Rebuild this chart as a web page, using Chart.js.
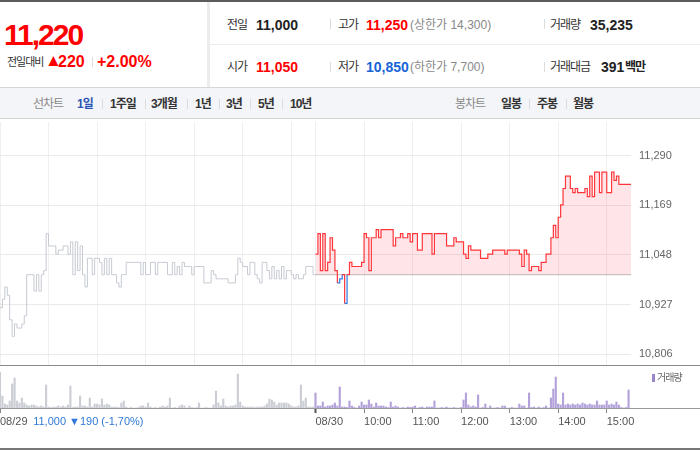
<!DOCTYPE html>
<html lang="ko">
<head>
  <meta charset="UTF-8">
  <script src="https://cdn.jsdelivr.net/npm/chart.js"></script>
  <title>주가 차트</title>
  <style>
    body { margin: 0; width: 700px; height: 450px; position: relative; overflow: hidden; background: #fff;
      font-family: "Liberation Sans", "Noto Sans CJK KR", sans-serif; color: #333; }
    .t { position: absolute; white-space: nowrap; line-height: 20px; }
    .k { font-size: 12px; letter-spacing: -1px; color: #333; }
    .n { font-size: 14px; font-weight: bold; color: #222; }
    .g { font-size: 12px; color: #888; }
    .red { color: #f00; }
    .blue { color: #1764d8; }
    .sep { position: absolute; width: 1px; height: 10px; background: #dcdcdc; }
    .ln { position: absolute; }
    .tab { font-size: 12px; font-weight: bold; letter-spacing: -1px; color: #333; }
    .box { position: absolute; left: 0; width: 700px; }
  </style>
</head>
<body>
  <!-- 상단 시세 -->
  <div class="ln" style="left:0;top:0;width:700px;height:2px;background:#5c5c5c"></div>
  <div class="t" style="left:4px;top:20px;font-size:30px;line-height:30px;font-weight:bold;letter-spacing:-2px;color:#f00">11,220</div>
  <div class="t" style="left:7px;top:52px;font-size:11px;letter-spacing:-1px;color:#333">전일대비</div>
  <div class="t red" style="left:45px;top:51px;font-size:17px">▲</div>
  <div class="t red" style="left:58px;top:52px;font-size:16px;font-weight:bold">220</div>
  <div class="sep" style="left:92px;top:57px;background:#ddd"></div>
  <div class="t red" style="left:97px;top:52px;font-size:16px;font-weight:bold">+2.00%</div>

  <div class="ln" style="left:207px;top:2px;width:3px;height:86px;background:#ececec"></div>
  <div class="ln" style="left:210px;top:44px;width:490px;height:1px;background:#ededed"></div>

  <div class="t k" style="left:227px;top:15px">전일</div>
  <div class="t n" style="left:256px;top:15px">11,000</div>
  <div class="sep" style="left:330px;top:19px"></div>
  <div class="t k" style="left:338px;top:15px">고가</div>
  <div class="t n red" style="left:366px;top:15px">11,250</div>
  <div class="t g" style="left:410px;top:15px">(상한가 14,300)</div>
  <div class="sep" style="left:544px;top:19px"></div>
  <div class="t k" style="left:550px;top:15px">거래량</div>
  <div class="t n" style="left:590px;top:15px">35,235</div>

  <div class="t k" style="left:227px;top:57px">시가</div>
  <div class="t n red" style="left:256px;top:57px">11,050</div>
  <div class="sep" style="left:330px;top:62px"></div>
  <div class="t k" style="left:338px;top:57px">저가</div>
  <div class="t n blue" style="left:366px;top:57px">10,850</div>
  <div class="t g" style="left:410px;top:57px">(하한가 7,700)</div>
  <div class="sep" style="left:544px;top:62px"></div>
  <div class="t k" style="left:550px;top:57px">거래대금</div>
  <div class="t n" style="left:601px;top:57px">391</div>
  <div class="t k" style="left:625px;top:57px;font-weight:bold;color:#222">백만</div>

  <!-- 기간 탭 -->
  <div class="box" style="top:87px;height:30px;background:#f4f5f8;border-top:1px solid #d6d6d6;border-bottom:1px solid #d3d3d3"></div>
  <div class="t k" style="left:33px;top:94px;color:#888">선차트</div>
  <div class="t tab" style="left:77px;top:94px;color:#2b52b5">1일</div>
  <div class="sep" style="left:102px;top:99px"></div>
  <div class="t tab" style="left:110px;top:94px">1주일</div>
  <div class="sep" style="left:145px;top:99px"></div>
  <div class="t tab" style="left:151px;top:94px">3개월</div>
  <div class="sep" style="left:187px;top:99px"></div>
  <div class="t tab" style="left:195px;top:94px">1년</div>
  <div class="sep" style="left:219px;top:99px"></div>
  <div class="t tab" style="left:226px;top:94px">3년</div>
  <div class="sep" style="left:250px;top:99px"></div>
  <div class="t tab" style="left:258px;top:94px">5년</div>
  <div class="sep" style="left:282px;top:99px"></div>
  <div class="t tab" style="left:290px;top:94px">10년</div>
  <div class="t k" style="left:455px;top:94px;color:#888">봉차트</div>
  <div class="t tab" style="left:501px;top:94px">일봉</div>
  <div class="sep" style="left:529px;top:99px"></div>
  <div class="t tab" style="left:537px;top:94px">주봉</div>
  <div class="sep" style="left:566px;top:99px"></div>
  <div class="t tab" style="left:573px;top:94px">월봉</div>

  <!-- 차트 -->
  <div class="box" style="top:122px;height:243px"><canvas id="priceChart"></canvas></div>
  <div class="ln" style="left:0;top:365px;width:700px;height:1px;background:#8c8c8c"></div>
  <div class="box" style="top:366px;height:81px"><canvas id="volChart"></canvas></div>
  <div class="ln" style="left:652px;top:374px;width:3px;height:8px;background:#9a85c9"></div>
  <div class="t" style="left:657px;top:368px;font-size:10px;letter-spacing:-1px;color:#666">거래량</div>
  <div class="ln" style="left:0;top:448px;width:700px;height:2px;background:#777"></div>

  <script>
    // 3분 간격 시세 (08/29, 08/30)
    const prevClose = 11000;
    const lastPrice = 11220;
    const step = 3;
    const dayMinutes = 390;

    const day1Price = [
      10920, 10940, 10970, 10950, 10890, 10850, 10880, 10870, 10870, 10880,
      10900, 11000, 11000, 11000, 10960, 11000, 10960, 11000, 11010, 11100,
      11070, 11070, 11070, 11050, 11060, 11060, 11070, 11070, 11050, 11080,
      11000, 11080, 11010, 11070, 11000, 10970, 11040, 11040, 11000, 11040,
      11040, 11030, 11000, 11040, 11000, 11040, 11000, 11000, 10980, 10970,
      11000, 11000, 11030, 11030, 11030, 11030, 11030, 11030, 11000, 11030,
      11000, 11000, 11030, 11030, 11000, 11030, 11030, 11030, 11030, 11000,
      11000, 11030, 11000, 11020, 11000, 11030, 11020, 11020, 11020, 11000,
      11020, 11020, 11020, 11020, 10980, 10980, 10980, 11010, 11000, 10990,
      10990, 10990, 10990, 10990, 10980, 10980, 10980, 11000, 11040, 11030,
      11020, 11020, 11000, 11030, 11030, 11000, 10990, 10980, 11030, 11030,
      11010, 10990, 11020, 10990, 11010, 10990, 11020, 10990, 11010, 11010,
      11000, 10990, 11000, 10990, 10990, 11000, 11020, 11020, 11020, 11000
    ];

    const day2Price = [
      11050, 11100, 11010, 11100, 11010, 11030, 11090, 11060, 11010, 10980,
      10990, 11000, 10930, 11000, 11030, 11020, 11020, 11020, 11020, 11030,
      11100, 11090, 11010, 11090, 11090, 11110, 11090, 11110, 11110, 11110,
      11110, 11110, 11070, 11090, 11090, 11100, 11090, 11090, 11100, 11080,
      11100, 11100, 11060, 11060, 11100, 11100, 11100, 11100, 11050, 11100,
      11100, 11100, 11100, 11100, 11070, 11070, 11070, 11090, 11080, 11080,
      11080, 11050, 11040, 11070, 11060, 11060, 11060, 11060, 11040, 11040,
      11040, 11050, 11050, 11060, 11060, 11060, 11060, 11060, 11050, 11060,
      11060, 11060, 11060, 11060, 11050, 11020, 11060, 11050, 11010, 11020,
      11020, 11020, 11010, 11030, 11030, 11050, 11050, 11090, 11120, 11090,
      11140, 11170, 11210, 11240, 11240, 11210, 11200, 11210, 11200, 11200,
      11200, 11210, 11190, 11240, 11190, 11250, 11250, 11200, 11250, 11250,
      11200, 11200, 11250, 11230, 11240, 11220, 11220, 11220, 11220, 11220
    ];

    const day1Vol = [
      3600, 1200, 400, 300, 700, 2400, 3000, 700, 500, 1000,
      500, 300, 200, 300, 300, 200, 100, 200, 100, 2300,
      100, 50, 100, 100, 200, 100, 200, 100, 300, 2200,
      50, 100, 100, 1200, 200, 200, 100, 1000, 100, 400,
      400, 300, 900, 300, 400, 300, 100, 100, 100, 50,
      500, 700, 100, 0, 50, 0, 0, 50, 200, 200,
      100, 500, 100, 0, 50, 0, 100, 200, 100, 200,
      1000, 0, 50, 0, 200, 300, 200, 0, 200, 50,
      0, 50, 500, 0, 0, 50, 0, 0, 300, 1700,
      500, 200, 900, 200, 100, 200, 200, 300, 3400, 600,
      200, 100, 100, 100, 100, 50, 100, 100, 100, 200,
      400, 900, 800, 600, 300, 500, 500, 500, 500, 400,
      200, 100, 100, 200, 2300, 700, 1000, 100, 100, 100
    ];

    const day2Vol = [
      1500, 200, 200, 600, 100, 200, 200, 300, 500, 200,
      2100, 100, 100, 50, 700, 200, 50, 0, 200, 600,
      300, 300, 800, 400, 100, 500, 200, 200, 200, 100,
      50, 600, 100, 200, 100, 0, 50, 0, 100, 50,
      100, 200, 0, 50, 100, 0, 100, 100, 100, 700,
      0, 0, 50, 0, 100, 0, 0, 50, 0, 0,
      50, 800, 1500, 300, 100, 200, 100, 1300, 0, 50,
      400, 0, 200, 0, 0, 50, 0, 200, 200, 0,
      0, 50, 0, 0, 400, 200, 200, 0, 1500, 50,
      100, 0, 100, 0, 50, 200, 0, 1000, 1900, 3100,
      400, 300, 1500, 300, 400, 300, 400, 300, 400, 300,
      500, 400, 300, 400, 300, 300, 700, 300, 300, 300,
      700, 300, 400, 300, 600, 300, 50, 0, 50, 1800
    ];

    const priceTicks = [10806, 10927, 11048, 11169, 11290];
    const hourTicks = [0, 60, 120, 180, 240, 300, 360, 390, 450, 510, 570, 630, 690, 750];
    const timeTicks = [0, 41, 390, 450, 510, 570, 630, 690, 750];
    const timeLabels = ["08/29", "11,000 ▼190 (-1,70%)", "08/30", "10:00", "11:00", "12:00", "13:00", "14:00", "15:00"];

    const red = "rgb(255,55,60)";
    const blue = "rgb(50,120,225)";

    function toPoints(values, start) {
      return values.map((v, i) => ({ x: start + i * step, y: v }));
    }

    // 축 라벨 때문에 생기는 여백 없애기
    function noPad(s) {
      s.paddingTop = 0;
      s.paddingBottom = 0;
      s.paddingLeft = 0;
      s.paddingRight = 0;
    }

    const line1 = toPoints(day1Price, 0);
    line1.push({ x: dayMinutes - 1, y: prevClose });
    const line2 = toPoints(day2Price, dayMinutes);
    line2.push({ x: dayMinutes * 2, y: lastPrice });

    Chart.defaults.font.family = "'Liberation Sans', 'Noto Sans CJK KR', sans-serif";

    new Chart(document.getElementById("priceChart"), {
      type: "line",
      data: {
        datasets: [{
          data: line2,
          borderColor: red,
          borderWidth: 1.2,
          stepped: true,
          pointRadius: 0,
          fill: { target: { value: prevClose }, above: "rgba(255,70,85,0.14)", below: "rgba(0,0,0,0)" },
          segment: {
            borderColor: c => c.p0.parsed.y < prevClose ? blue : undefined
          }
        }, {
          data: [{ x: dayMinutes, y: prevClose }, { x: dayMinutes * 2, y: prevClose }],
          borderColor: "#777",
          borderWidth: 1,
          borderDash: [1, 1],
          pointRadius: 0,
          fill: false
        }, {
          data: line1,
          borderColor: "rgb(198,202,210)",
          borderWidth: 1,
          stepped: true,
          pointRadius: 0,
          fill: false
        }]
      },
      options: {
        animation: false,
        responsive: true,
        maintainAspectRatio: false,
        layout: { padding: 0 },
        plugins: { legend: { display: false }, tooltip: { enabled: false } },
        scales: {
          x: {
            type: "linear", min: 0, max: dayMinutes * 2,
            afterBuildTicks: s => { s.ticks = hourTicks.map(v => ({ value: v })); },
            afterFit: s => { s.height = 0; noPad(s); },
            ticks: { display: false },
            grid: { color: "#efefef", drawTicks: false },
            border: { display: false }
          },
          y: {
            position: "right", min: 10780, max: 11372,
            afterBuildTicks: s => { s.ticks = priceTicks.map(v => ({ value: v })); },
            afterFit: s => { s.width = 69; noPad(s); },
            ticks: { padding: 8, color: "#666", font: { size: 11 }, callback: v => v.toLocaleString("en-US") },
            grid: { color: "#e9e9e9", drawTicks: false },
            border: { display: false }
          }
        }
      }
    });

    new Chart(document.getElementById("volChart"), {
      type: "bar",
      data: {
        datasets: [{
          data: toPoints(day1Vol, 0),
          backgroundColor: "#ccced5",
          barThickness: 1.5,
          grouped: false
        }, {
          data: toPoints(day2Vol, dayMinutes),
          backgroundColor: "#b3a3da",
          barThickness: 1.5,
          grouped: false
        }]
      },
      options: {
        animation: false,
        responsive: true,
        maintainAspectRatio: false,
        layout: { padding: 0 },
        plugins: { legend: { display: false }, tooltip: { enabled: false } },
        scales: {
          x: {
            type: "linear", min: 0, max: 865.3, offset: false,
            afterBuildTicks: s => { s.ticks = timeTicks.map(v => ({ value: v })); },
            afterFit: s => { s.height = 39; noPad(s); },
            ticks: {
              autoSkip: false, maxRotation: 0, align: "start", padding: 2,
              font: { size: 11 },
              color: c => c.index === 1 ? "#2f7ad8" : "#555",
              callback: (v, i) => timeLabels[i]
            },
            grid: {
              offset: false,
              drawOnChartArea: false, tickLength: 5,
              tickColor: c => c.index === 1 ? "rgba(0,0,0,0)" : (c.index === 2 ? "#555" : "#888"),
              tickWidth: c => c.index === 2 ? 2 : 1
            },
            border: { color: "#999" }
          },
          y: { display: false, min: 0, max: 4200 }
        }
      }
    });
  </script>
</body>
</html>
